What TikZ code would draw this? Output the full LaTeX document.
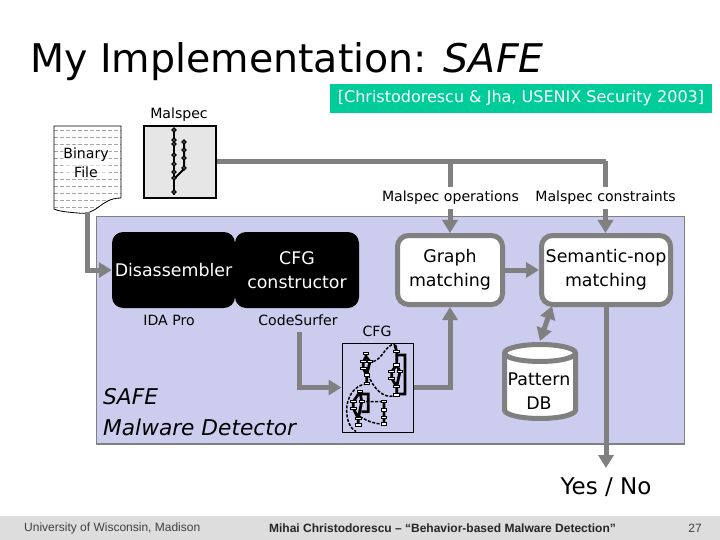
\documentclass[tikz,border=0pt]{standalone}
\usepackage{fontspec}
\setmainfont{DejaVu Sans}
\newfontfamily\arialf{Liberation Sans}
\usetikzlibrary{arrows.meta,shapes.geometric,calc}
\definecolor{arrowgray}{HTML}{808080}
\definecolor{panelblue}{HTML}{CCCCEE}
\definecolor{refgreen}{HTML}{00CC99}
\definecolor{footgray}{HTML}{DDDDDD}
\definecolor{specgray}{HTML}{E6E6E6}
\newcommand{\fs}[1]{\fontsize{#1}{\dimexpr #1pt*138/100\relax}\selectfont}
\tikzset{
  x=1pt,y=-1pt,
  flow/.style={draw=arrowgray,line width=5pt,-{Triangle[length=13pt,width=15pt]}},
  flowplain/.style={draw=arrowgray,line width=5pt},
  flowboth/.style={draw=arrowgray,line width=5pt,{Triangle[length=13pt,width=15pt]}-{Triangle[length=13pt,width=15pt]}},
  blackbox/.style={fill=black,text=white,rounded corners=11pt,inner sep=0pt,align=center,font=\fs{17.4}},
  whitebox/.style={fill=white,draw=arrowgray,line width=5pt,rounded corners=11pt,inner sep=0pt,align=center,font=\fs{17.4}},
  smalllabel/.style={inner sep=0pt,font=\fs{14.1},text depth=3pt,text height=10pt},
  gaplabel/.style={smalllabel,fill=white,minimum height=22pt},
}
\begin{document}
\begin{tikzpicture}
\useasboundingbox (0,0) rectangle (720,540);
\fill[white] (0,0) rectangle (720,540);
% footer
\fill[footgray] (0,516) rectangle (720,540);
\node[anchor=west,inner sep=0pt,font=\arialf\fontsize{12}{14}\selectfont,text=black!75] (uni) at (24,528) {University of Wisconsin, Madison};
\node[anchor=center,inner sep=0pt,font=\arialf\bfseries\fontsize{12}{14}\selectfont,text=black!85] (talk) at (442.5,528) {Mihai Christodorescu – “Behavior-based Malware Detection”};
\node[anchor=center,inner sep=0pt,font=\arialf\fontsize{12}{14}\selectfont,text=black!75] (page) at (695,528) {27};
% title
\node[anchor=base west,inner sep=0pt,font=\fs{39.5}] (title) at (30,73) {My Implementation: \textit{SAFE}};
% reference
\node[fill=refgreen,text=white,inner sep=0pt,minimum width=382pt,minimum height=29pt,font=\fs{16}] (ref) at (521,98.5) {[Christodorescu \& Jha, USENIX Security 2003]};
% panel
\fill[panelblue,draw=arrowgray,line width=1.2pt] (96.5,216.5) rectangle (684.5,444);
% binary file
\begin{scope}
\clip (54,126) -- (121,126) -- (121,198) .. controls (100,198) and (98,216) .. (78,213) .. controls (65,212) and (58,211) .. (54,209) -- cycle;
\foreach \yy in {130,137,...,214} \draw[black!35,line width=.6pt,dash pattern=on 4pt off 2pt] (54,\yy) -- (121,\yy);
\end{scope}
\draw[black,line width=.8pt] (54,126) -- (121,126) -- (121,198) .. controls (100,198) and (98,216) .. (78,213) .. controls (65,212) and (58,211) .. (54,209) -- cycle;
\coordinate (filebot) at (87,212);
\node[inner sep=0pt,align=center,font=\fs{14.1},fill=white,fill opacity=.6,text opacity=1] (file) at (86,162.5) {Binary\\File};
% malspec
\node[draw=black,fill=specgray,line width=1.5pt,minimum width=72pt,minimum height=72pt,inner sep=0pt] (spec) at (180,162) {};
\draw[black,line width=2pt] (174,128) -- (174,195);
\draw[black,line width=2pt] (184,142) -- (184,169) -- (175,178);
\foreach \yy in {130,140,144,155,164,172,178,192} \draw[black,line width=1.5pt,fill=specgray] (174,\yy) circle[radius=1.9pt];
\foreach \yy in {142,150,158,168} \draw[black,line width=1.5pt,fill=specgray] (184,\yy) circle[radius=1.9pt];
\node[inner sep=0pt,font=\fs{14.1}] (speclabel) at (179,114.5) {Malspec};
% boxes
\node[blackbox,minimum width=123pt,minimum height=76pt] (dis) at (173.5,270) {Disassembler};
\node[blackbox,minimum width=124pt,minimum height=76pt] (cons) at (297,270) {CFG\\constructor};
\node[whitebox,minimum width=105pt,minimum height=69pt] (graph) at (450,270) {Graph\\matching};
\node[whitebox,minimum width=129pt,minimum height=69pt] (sem) at (606,270) {Semantic-nop\\matching};
\node[draw=black,fill=panelblue,line width=1pt,minimum width=71pt,minimum height=89pt,inner sep=0pt] (cfg) at (377.5,387.5) {};
% database cylinder
\filldraw[draw=arrowgray,fill=white,line width=5pt]
  (504.5,353) .. controls (504.5,348.3) and (520.5,344.5) .. (540,344.5)
  .. controls (559.5,344.5) and (575.5,348.3) .. (575.5,353)
  -- (575.5,410) .. controls (575.5,414.7) and (559.5,418.5) .. (540,418.5)
  .. controls (520.5,418.5) and (504.5,414.7) .. (504.5,410) -- cycle;
\draw[draw=arrowgray,line width=5pt]
  (504.5,353) .. controls (504.5,357.7) and (520.5,361.5) .. (540,361.5)
  .. controls (559.5,361.5) and (575.5,357.7) .. (575.5,353);
\node[inner sep=0pt,align=center,font=\fs{17.4}] (db) at (539,391) {Pattern\\DB};
% connectors
\coordinate (trunk) at (605.5,161.5);
\draw[flowplain] (spec.east |- trunk) -- (trunk);
\draw[flow] (450,161.5) -- (graph.north);
\draw[flow] (trunk) -- (sem.north -| trunk);
\draw[flow] (filebot) |- (dis.west);
\draw[flow] (graph.east) -- (sem.west);
\coordinate (surferout) at (299,332);
\draw[flow] (surferout) |- (cfg.west);
\draw[flow] (cfg.east) -| (graph.south);
\coordinate (semout) at (552,306);
\coordinate (dbtop) at (540,341);
\draw[flowboth] (semout) -- (dbtop);
\coordinate (answer) at (606,468);
\draw[flow] (606,306) -- (answer);
% labels
\node[gaplabel] (opslabel) at (450.5,198) {Malspec operations};
\node[gaplabel] (conlabel) at (605.5,198) {Malspec constraints};
\node[smalllabel] (ida) at (169,321.5) {IDA Pro};
\node[smalllabel] (surfer) at (298,321.5) {CodeSurfer};
\node[smalllabel] (cfglabel) at (377,332.5) {CFG};
\node[anchor=north west,inner sep=0pt,align=left,font=\fs{21.7}\itshape] (safe) at (103,388) {SAFE\\[0.8pt]Malware Detector};
\node[inner sep=0pt,font=\fs{23}] (yes) at (606,487) {Yes / No};
% CFG drawing
\begin{scope}[shift={(330,320)},x=.3333pt,y=-.3333pt]
\draw[black,line width=1.5pt,dash pattern=on 3pt off 1.5pt]
  (130,125) .. controls (160,115) and (165,75) .. (195,72)
  (115,165) .. controls (130,205) and (160,235) .. (190,228)
  (110,192) .. controls (70,195) and (50,235) .. (50,270) .. controls (50,300) and (60,325) .. (78,335)
  (95,245) -- (160,245)
  (90,290) .. controls (115,305) and (135,312) .. (160,312);
\draw[black,line width=2.8pt]
  (108,100) -- (108,110) -- (100,125) -- (100,145) -- (110,165) -- (110,190)
  (108,110) -- (120,125) -- (110,165)
  (195,75) -- (200,95) -- (200,135) -- (185,155) -- (185,175) -- (200,200) -- (200,225)
  (200,135) -- (210,155) -- (200,200)
  (205,105) -- (225,105) -- (225,222) -- (205,222)
  (90,215) -- (70,245) -- (70,265) -- (85,295) -- (85,315)
  (90,215) -- (95,245) -- (85,295)
  (95,222) -- (115,222) -- (115,275) -- (95,275)
  (162,245) -- (162,312);
\foreach \px/\py in {108/100,100/125,120/125,100/145,110/165,110/190,
  200/95,200/135,185/155,210/155,185/175,200/200,200/225,
  90/215,70/245,95/245,70/265,85/295,85/315,
  162/245,162/270,162/292,162/312}
  \fill[white,draw=black,line width=1pt] (\px-8,\py-3.5) rectangle (\px+8,\py+3.5);
\end{scope}
\end{tikzpicture}
\end{document}
